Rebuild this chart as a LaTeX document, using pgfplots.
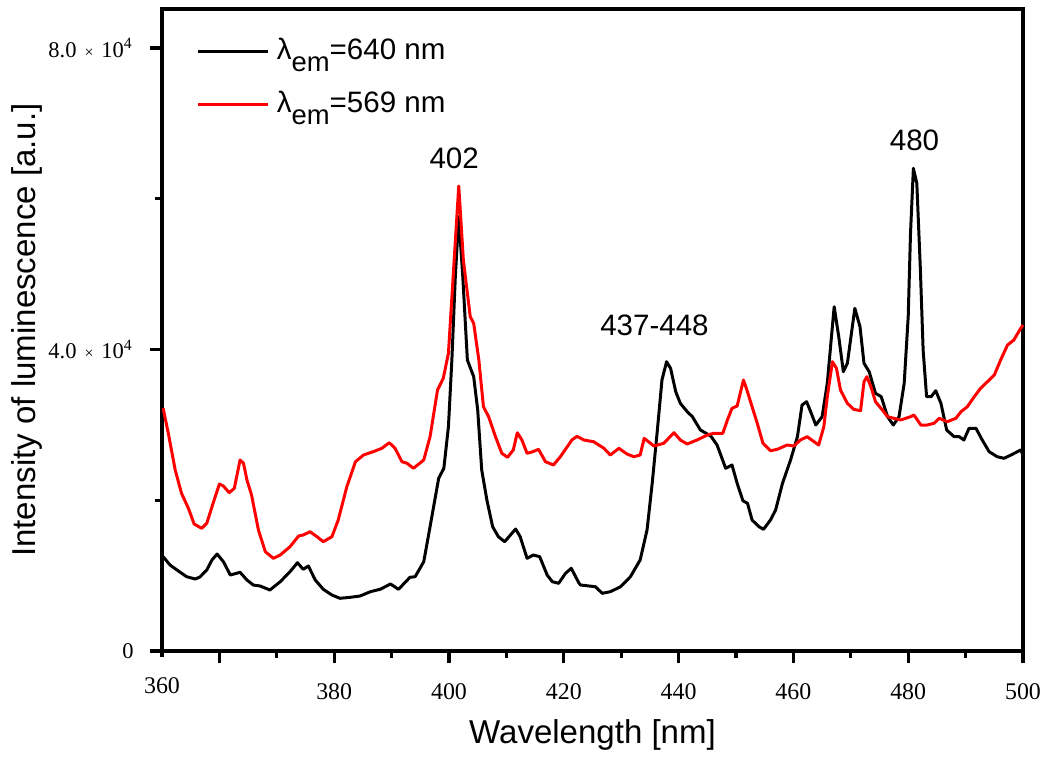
\documentclass[border=0pt]{standalone}
\usepackage{pgfplots}
\pgfplotsset{compat=1.18}
\usepackage{fontspec}
\setmainfont{Liberation Sans}
\newfontfamily\tnr{Liberation Serif}
\definecolor{myred}{RGB}{255,0,0}
\begin{document}
\begin{tikzpicture}
\begin{axis}[
  scale only axis,
  width=86.1mm, height=64.2mm,
  xmin=350, xmax=500, ymin=0, ymax=85174,
  axis line style={line width=0.9pt},
  tick pos=left, tick align=outside,
  major tick length=1.2mm, minor tick length=0.7mm,
  every tick/.style={line width=0.9pt, black},
  xtick={360,380,...,500},
  xticklabels={,380,400,420,440,460,480,500},
  minor xtick={370,390,...,490},
  extra x ticks={350},
  extra x tick labels={360},
  extra x tick style={major tick length=0.6mm},
  ytick={0,40000,80000},
  minor ytick={20000,60000},
  yticklabels={0, {4.0\hspace{0.8mm}{\fontsize{4.5}{5}\selectfont×}\hspace{0.8mm}10\textsuperscript{4}}, {8.0\hspace{0.8mm}{\fontsize{4.5}{5}\selectfont×}\hspace{0.8mm}10\textsuperscript{4}}},
  scaled y ticks=false, scaled x ticks=false,
  xticklabel style={font=\tnr\fontsize{6.8}{8}\selectfont, yshift=-0.8mm},
  yticklabel style={font=\tnr\fontsize{6.4}{8}\selectfont, xshift=-0.4mm},
  xlabel={Wavelength [nm]},
  ylabel={Intensity of luminescence [a.u.]},
  label style={font=\fontsize{9.4}{11}\selectfont},
  xlabel style={at={(rel axis cs:0.5,0)}, anchor=center, yshift=-8.4mm},
  ylabel style={at={(rel axis cs:0,0.5)}, anchor=center, yshift=13.5mm},
  legend style={draw=none, fill=none, at={(rel axis cs:0.0397,0.966)}, anchor=north west,
    font=\fontsize{8.4}{10}\selectfont, row sep=1.2mm, inner sep=0pt},
  legend cell align=left,
  legend image code/.code={\draw[#1] (0mm,0mm) -- (7mm,0mm);},
  clip=false,
]
\addplot[black, line width=0.85pt, line join=round] coordinates {
(350.2,12511)(351.4,11410)(353.1,10481)(354.3,9857)(355.8,9552)(356.6,9818)(357.8,10746)(358.7,12073)(359.6,12869)(360.7,11847)(361.9,10083)(363.6,10441)(364.8,9420)(365.9,8756)(367.1,8624)(368.8,8093)(370.6,9194)(372.3,10521)(373.6,11715)(374.6,10839)(375.5,11277)(376.7,9420)(378.1,8186)(379.6,7430)(381.0,6992)(382.8,7124)(384.5,7297)(386.3,7867)(388.0,8186)(389.8,8889)(391.2,8186)(393.2,9778)(394.1,9857)(395.6,11847)(396.7,16491)(398.2,22912)(399.1,24239)(399.9,29758)(400.5,38607)(401.1,49658)(401.7,57619)(402.4,49658)(403.2,38607)(404.3,36391)(405.0,31973)(405.7,24013)(406.6,20033)(407.6,16491)(408.6,15164)(409.7,14501)(411.6,16186)(412.4,15164)(413.6,12298)(414.7,12736)(415.8,12511)(417.1,10083)(418.0,9194)(419.1,8982)(420.3,10308)(421.3,10972)(422.6,9061)(422.9,8756)(425.5,8531)(426.7,7655)(428.1,7867)(429.9,8531)(431.6,9857)(433.3,12073)(434.5,16053)(435.4,22249)(436.3,29320)(437.1,35954)(437.9,38381)(438.6,37506)(439.5,34401)(440.3,32862)(441.5,31748)(442.4,31085)(443.8,29320)(445.6,28524)(446.7,27330)(448.2,24239)(449.3,24677)(450.2,22249)(451.2,19940)(452.0,19595)(452.8,17380)(454.0,16491)(454.8,16146)(456.0,17380)(456.9,18706)(458.1,22249)(459.5,25340)(460.7,28431)(461.5,32637)(462.3,33075)(463.0,31748)(463.9,29983)(465.0,31085)(465.9,35516)(467.1,45678)(467.9,41698)(468.7,37055)(469.4,38169)(470.7,45466)(471.6,43025)(472.3,38169)(473.2,37055)(474.3,34189)(475.3,33738)(476.4,31085)(477.4,29983)(478.4,31085)(479.3,35516)(480.0,44352)(480.4,55416)(480.9,64040)(481.5,62050)(482.1,50985)(482.6,39934)(483.2,33738)(484.0,33738)(484.8,34534)(485.7,32862)(486.7,29320)(488.0,28431)(488.9,28431)(489.7,27993)(490.6,29546)(491.8,29546)(492.9,27993)(494.1,26441)(495.5,25778)(496.7,25566)(497.9,26003)(499.6,26667)(500.0,26003)
};
\addlegendentry{λ\raisebox{-0.4em}{\fontsize{7.8}{9}\selectfont em}=640 nm}
\addplot[myred, line width=0.85pt, line join=round] coordinates {
(350.2,32199)(351.1,28882)(352.3,24013)(353.4,20922)(354.6,18932)(355.6,16849)(356.9,16279)(357.8,16942)(358.9,19595)(360.0,22156)(360.7,21891)(361.7,21002)(362.6,21585)(363.6,25340)(364.2,24902)(364.8,22687)(365.6,20697)(366.8,16053)(368.0,13174)(369.4,12298)(370.6,12736)(372.3,13837)(373.8,15257)(374.6,15390)(375.8,15828)(377.0,15164)(378.1,14501)(379.6,15164)(380.7,17380)(382.2,21798)(383.7,25114)(385.1,26003)(386.8,26441)(388.3,26892)(389.6,27635)(390.6,26892)(391.8,25114)(392.7,24902)(393.8,24239)(395.6,25340)(396.7,28431)(398.0,34627)(399.0,36179)(399.9,39496)(400.9,51874)(401.7,61692)(402.5,51874)(403.7,44352)(404.3,43476)(405.2,38607)(406.0,32411)(406.9,31085)(408.1,28431)(409.2,26229)(410.2,25698)(411.2,26667)(411.9,28962)(412.7,27993)(413.6,26229)(414.6,26441)(415.6,26760)(416.8,25114)(418.2,24677)(419.4,25778)(420.6,27104)(421.4,27993)(422.3,28484)(423.5,27993)(425.2,27768)(427.0,26892)(428.1,26003)(429.6,26892)(431.0,26136)(432.2,25778)(433.3,26003)(434.0,28219)(435.7,27197)(437.4,27556)(439.2,28962)(440.3,27993)(441.5,27463)(443.2,27993)(445.0,28657)(446.1,28882)(447.7,28882)(448.5,30647)(449.3,32199)(450.2,32504)(451.3,35954)(451.9,34627)(452.8,32411)(453.7,30209)(454.7,27556)(456.0,26574)(457.2,26760)(458.9,27330)(460.1,27197)(461.2,27993)(462.4,28431)(463.6,27768)(464.4,27330)(465.3,29758)(465.9,33738)(466.8,38381)(467.5,37506)(468.2,34627)(469.4,32862)(470.5,32066)(471.7,31881)(472.3,35728)(472.8,36391)(473.5,35065)(474.3,33075)(475.5,31973)(476.4,31085)(477.5,30872)(478.7,30647)(480.4,31085)(481.0,31310)(482.2,29983)(483.3,29983)(484.5,30209)(485.4,30872)(486.8,30421)(488.3,30872)(489.2,31748)(490.3,32411)(491.5,33738)(492.6,34852)(493.8,35728)(495.0,36617)(496.1,38607)(497.3,40597)(498.4,41260)(499.6,42813)(500.0,43250)
};
\addlegendentry{λ\raisebox{-0.4em}{\fontsize{7.8}{9}\selectfont em}=569 nm}
\node[font=\fontsize{8.4}{10}\selectfont] at (axis cs:400.9,65406) {402};
\node[font=\fontsize{8.4}{10}\selectfont] at (axis cs:435.8,43250) {437-448};
\node[font=\fontsize{8.4}{10}\selectfont] at (axis cs:481.1,67795) {480};
\coordinate (O) at (rel axis cs:0,0);
\end{axis}
\pgfresetboundingbox
\path ([shift={(-16.2mm,-10.5mm)}]O) rectangle ([shift={(88.4mm,65.1mm)}]O);
\end{tikzpicture}
\end{document}
